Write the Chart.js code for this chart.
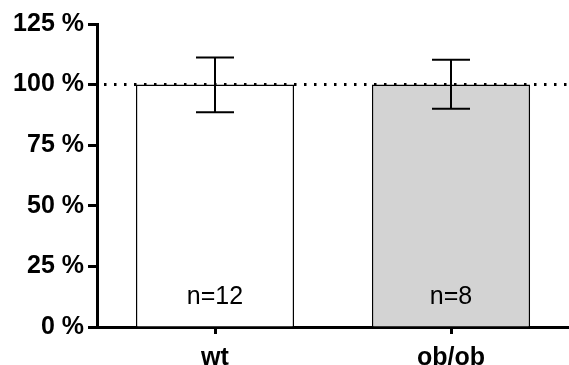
<!DOCTYPE html>
<html><head><meta charset="utf-8">
<script src="https://cdn.jsdelivr.net/npm/chart.js@4/dist/chart.umd.min.js"></script>
<style>html,body{margin:0;padding:0;background:#fff}#wrap{width:569px;height:365px}</style>
</head><body><div id="wrap"><canvas id="c" width="569" height="365"></canvas></div>
<script>
const categories = ["wt", "ob/ob"];
const means = [100, 100];
const errUpper = [111.2, 110.3];
const errLower = [88.6, 90.0];
const nLabels = ["n=12", "n=8"];
const barColors = ["#ffffff", "#d3d3d3"];
const yTicks = [0, 25, 50, 75, 100, 125];
const refLine = 100;

const FONT = 'Arial, "Liberation Sans", sans-serif';

const overlay = {
  id: 'overlay',
  afterDatasetsDraw(chart) {
    const ctx = chart.ctx, x = chart.scales.x, y = chart.scales.y;
    const area = chart.chartArea;
    ctx.save();
    ctx.strokeStyle = '#000';
    ctx.lineWidth = 3;
    ctx.setLineDash([2.5, 7.5]);
    ctx.beginPath();
    const yr = y.getPixelForValue(refLine);
    ctx.moveTo(area.left + 7, yr);
    ctx.lineTo(area.right, yr);
    ctx.stroke();
    ctx.setLineDash([]);
    ctx.lineWidth = 2;
    categories.forEach((c, i) => {
      const cx = x.getPixelForValue(i);
      const yt = y.getPixelForValue(errUpper[i]);
      const yb = y.getPixelForValue(errLower[i]);
      ctx.beginPath();
      ctx.moveTo(cx, yt); ctx.lineTo(cx, yb);
      ctx.moveTo(cx - 19, yt); ctx.lineTo(cx + 19, yt);
      ctx.moveTo(cx - 19, yb); ctx.lineTo(cx + 19, yb);
      ctx.stroke();
      ctx.fillStyle = '#000';
      ctx.font = '25px ' + FONT;
      ctx.textAlign = 'center';
      ctx.textBaseline = 'middle';
      ctx.fillText(nLabels[i], cx, 297);
    });
    ctx.restore();
  }
};

new Chart(document.getElementById('c'), {
  type: 'bar',
  data: {
    labels: categories,
    datasets: [{
      data: means,
      backgroundColor: barColors,
      borderColor: '#000',
      borderWidth: 1.5,
      borderSkipped: 'bottom',
      categoryPercentage: 1,
      barPercentage: 0.67
    }]
  },
  options: {
    responsive: false,
    animation: false,
    devicePixelRatio: 1,
    layout: { padding: { top: 24, right: 0, left: 0, bottom: 0 } },
    plugins: { legend: { display: false }, tooltip: { enabled: false } },
    scales: {
      x: {
        grid: { display: true, drawOnChartArea: false, drawTicks: true, tickLength: 7, tickWidth: 3, tickColor: '#000', offset: false },
        border: { display: true, color: '#000', width: 3 },
        ticks: { color: '#000', font: { family: FONT, size: 25, weight: 'bold' }, padding: 9 },
        afterFit(s) { s.height = 38; }
      },
      y: {
        min: 0, max: 125,
        afterBuildTicks(s) { s.ticks = yTicks.map(v => ({ value: v })); },
        grid: { display: true, drawOnChartArea: false, drawTicks: true, tickLength: 9, tickWidth: 3, tickColor: '#000' },
        border: { display: true, color: '#000', width: 3 },
        ticks: { color: '#000', font: { family: FONT, size: 25, weight: 'bold' }, padding: 4, callback: v => v + ' %' },
        afterFit(s) { s.width = 97; }
      }
    }
  },
  plugins: [overlay]
});
</script></body></html>
